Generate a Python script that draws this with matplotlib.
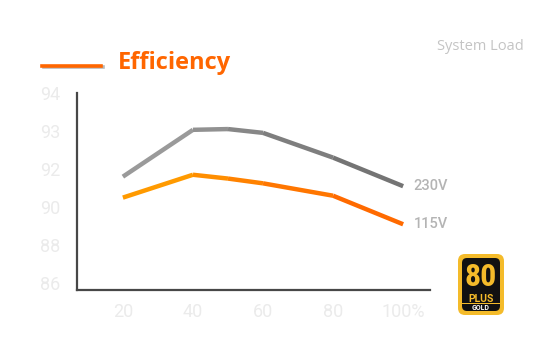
import numpy as np
import matplotlib.pyplot as plt
from matplotlib.collections import LineCollection
from matplotlib.patches import FancyBboxPatch, Rectangle

load = [20, 40, 50, 60, 80, 100]
eff_230 = [91.6, 93.03, 93.05, 92.95, 92.3, 91.1]
eff_115 = [90.5, 91.7, 91.5, 91.25, 90.6, 89.1]

x_ticks = [20, 40, 60, 80, 100]
x_labels = ['20', '40', '60', '80', '100%']
y_levels = [86, 88, 90, 92, 93, 94]
y_labels = ['86', '88', '90', '92', '93', '94']

pos = np.arange(len(y_levels), dtype=float)

def fwd(v):
    v = np.asarray(v, dtype=float)
    return np.where(v < y_levels[0], (v - y_levels[0]) / 2.0, np.interp(v, y_levels, pos))

def inv(p):
    p = np.asarray(p, dtype=float)
    return np.where(p < 0, y_levels[0] + 2.0 * p, np.interp(p, pos, y_levels))

fig = plt.figure(figsize=(5.5, 3.6), dpi=100)
ax = fig.add_axes([0.14, 0.194, 0.642, 0.548])
ax.set_yscale('function', functions=(fwd, inv))

def grad_line(xs, ys, c0, c1):
    pts = np.column_stack([xs, ys]).reshape(-1, 1, 2)
    segs = np.concatenate([pts[:-1], pts[1:]], axis=1)
    c0 = np.array(plt.matplotlib.colors.to_rgb(c0))
    c1 = np.array(plt.matplotlib.colors.to_rgb(c1))
    t = np.linspace(0, 1, len(segs))
    cols = [c0 + (c1 - c0) * k for k in t]
    lc = LineCollection(segs, colors=cols, linewidths=3.2, capstyle='butt', joinstyle='round')
    ax.add_collection(lc)

grad_line(load, eff_230, '#9a9a9a', '#747474')
grad_line(load, eff_115, '#ff9a00', '#ff6a00')

ax.set_xlim(6.9, 107.7)
ax.set_ylim(85.64, 94)

for s in ['top', 'right']:
    ax.spines[s].set_visible(False)
for s in ['left', 'bottom']:
    ax.spines[s].set_color('#474747')
    ax.spines[s].set_linewidth(1.6)

ax.set_xticks(x_ticks)
ax.set_xticklabels(x_labels)
ax.set_yticks(y_levels)
ax.set_yticklabels(y_labels)
ax.yaxis.set_minor_locator(plt.NullLocator())
ax.tick_params(length=0, labelsize=13)
ax.tick_params(axis='x', pad=9)
ax.tick_params(axis='y', pad=12)
for lab in ax.get_xticklabels() + ax.get_yticklabels():
    lab.set_family('Roboto')
    lab.set_color('#ebebeb')

ax.text(load[-1] + 3, eff_230[-1], '230V', color='#b4b4b4', fontsize=10.5,
        family='Roboto', fontweight='medium', va='center', ha='left')
ax.text(load[-1] + 3, eff_115[-1], '115V', color='#b4b4b4', fontsize=10.5,
        family='Roboto', fontweight='medium', va='center', ha='left')

# title with legend-style bar
fig.add_artist(plt.Line2D([44/550, 103/550], [1-67/360, 1-67/360], color='#b8b8b8', lw=2.6))
fig.add_artist(plt.Line2D([42/550, 101/550], [1-65.5/360, 1-65.5/360], color='#ff6600', lw=2.6))
fig.text(118/550, 1-63/360, 'Efficiency', color='#ff6600', fontsize=17,
         fontweight='bold', family='Open Sans', va='center', ha='left')
fig.text(524/550, 1-46/360, 'System Load', color='#c4c4c4', fontsize=10.5,
         family='Open Sans', va='center', ha='right')

# 80 PLUS GOLD badge
bx = fig.add_axes([457/550, 1-316/360, 48/550, 63/360])
bx.set_xlim(0, 48)
bx.set_ylim(0, 63)
bx.axis('off')
bx.add_patch(FancyBboxPatch((1, 1), 46, 61, boxstyle='round,pad=0,rounding_size=7',
                            fc='#f4bb2a', ec='none'))
bx.add_patch(FancyBboxPatch((5, 5), 38, 53, boxstyle='round,pad=0,rounding_size=5',
                            fc='#111111', ec='none'))
bx.add_patch(Rectangle((5, 12), 38, 1, fc='#f4bb2a', ec='none'))
bx.text(24, 23.5, '80', color='#f4bb2a', fontsize=23, fontweight='bold',
        family='Roboto Condensed', ha='center', va='bottom')
bx.text(24, 17.5, 'PLUS', color='#f4bb2a', fontsize=7.5, fontweight='bold',
        family='Roboto', ha='center', va='center')
bx.text(24, 8, 'GOLD', color='white', fontsize=5, fontweight='bold',
        family='Roboto', ha='center', va='center')

fig.savefig('out.png', dpi=100)
